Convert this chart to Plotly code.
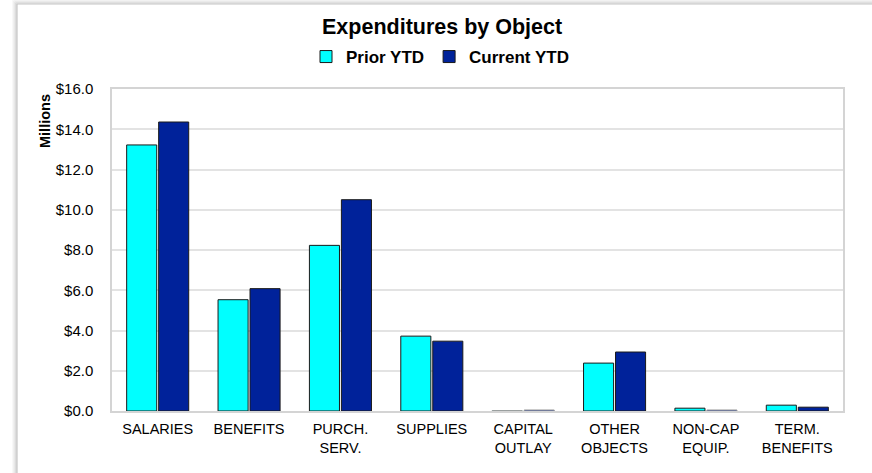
import plotly.graph_objects as go

# Expenditure categories (x axis)
categories = ["SALARIES", "BENEFITS", "PURCH.<br>SERV.", "SUPPLIES", "CAPITAL<br>OUTLAY",
              "OTHER<br>OBJECTS", "NON-CAP<br>EQUIP.", "TERM.<br>BENEFITS"]

# Year-to-date spending, in millions of dollars
prior_ytd = [13.22, 5.53, 8.23, 3.72, 0.02, 2.38, 0.14, 0.29]
current_ytd = [14.36, 6.08, 10.50, 3.47, 0.05, 2.93, 0.05, 0.19]

W, H = 872, 473
ML, MR, MT, MB = 112, 29, 89, 62
PW, PH = W - ML - MR, H - MT - MB

FONT = "Arial, Liberation Sans, sans-serif"
PRIOR_COLOR = "#00FFFF"
CURRENT_COLOR = "#00229A"


def px_x(x):
    """Horizontal pixel position -> paper coordinate."""
    return (x - ML) / PW


def px_y(y):
    """Vertical pixel position (from top) -> paper coordinate."""
    return (H - MB - y) / PH


def outline_colors(values):
    # very small bars only show as a faint grey sliver
    return ["#9a9a9a" if v < 0.1 else "#1a1a1a" for v in values]


fig = go.Figure()
fig.add_trace(go.Bar(
    x=categories, y=prior_ytd, name="Prior YTD",
    marker=dict(color=PRIOR_COLOR, line=dict(color=outline_colors(prior_ytd), width=1)),
))
fig.add_trace(go.Bar(
    x=categories, y=current_ytd, name="Current YTD",
    marker=dict(color=CURRENT_COLOR, line=dict(color=outline_colors(current_ytd), width=1)),
))

# chart frame: soft shadow on the left and top edges
shapes = []
shadow = ["#f4f4f4", "#ececec", "#e0e0e0", "#d2d2d2", "#c4c4c4"]
for i, c in enumerate(shadow):
    shapes.append(dict(type="line", xref="paper", yref="paper",
                       x0=px_x(13 + i), x1=px_x(13 + i), y0=px_y(0 + i), y1=px_y(H + 5),
                       line=dict(color=c, width=1.2)))
    shapes.append(dict(type="line", xref="paper", yref="paper",
                       x0=px_x(13 + i), x1=px_x(W + 5), y0=px_y(0 + i), y1=px_y(0 + i),
                       line=dict(color=c, width=1.2)))

annotations = [
    dict(text="<b>Expenditures by Object</b>", xref="paper", yref="paper",
         x=px_x(441.5), y=px_y(27), xanchor="center", yanchor="middle", showarrow=False,
         font=dict(family=FONT, size=21.5, color="#000000")),
    dict(text="<b>Millions</b>", xref="paper", yref="paper", textangle=-90,
         x=px_x(45), y=px_y(121), xanchor="center", yanchor="middle", showarrow=False,
         font=dict(family=FONT, size=14.5, color="#000000")),
]

fig.update_layout(
    width=W, height=H,
    margin=dict(l=ML, r=MR, t=MT, b=MB, autoexpand=False),
    paper_bgcolor="#ffffff", plot_bgcolor="#ffffff",
    barmode="group", bargap=0.3, bargroupgap=0.06,
    font=dict(family=FONT, color="#000000"),
    showlegend=True,
    legend=dict(orientation="h", x=px_x(306), y=px_y(57), xanchor="left", yanchor="middle",
                font=dict(family=FONT, size=17, color="#000000", weight="bold"),
                itemwidth=30, traceorder="normal", bgcolor="rgba(0,0,0,0)"),
    shapes=shapes,
    annotations=annotations,
)

fig.update_xaxes(
    showgrid=False, ticks="", showline=True, linecolor="#d4d4d4", linewidth=1.5,
    mirror=True, tickfont=dict(family=FONT, size=14.5, color="#000000"),
    ticklabelstandoff=4, fixedrange=True,
)
fig.update_yaxes(
    range=[0, 16], dtick=2, tickprefix="$", tickformat=".1f",
    showgrid=True, gridcolor="#e3e3e3", gridwidth=1.5, zeroline=False,
    showline=True, linecolor="#d4d4d4", linewidth=1.5, mirror=True, ticks="",
    tickfont=dict(family=FONT, size=15, color="#000000"),
    ticklabelstandoff=14, fixedrange=True,
)

fig.write_html("out.html", config={"displayModeBar": False})
